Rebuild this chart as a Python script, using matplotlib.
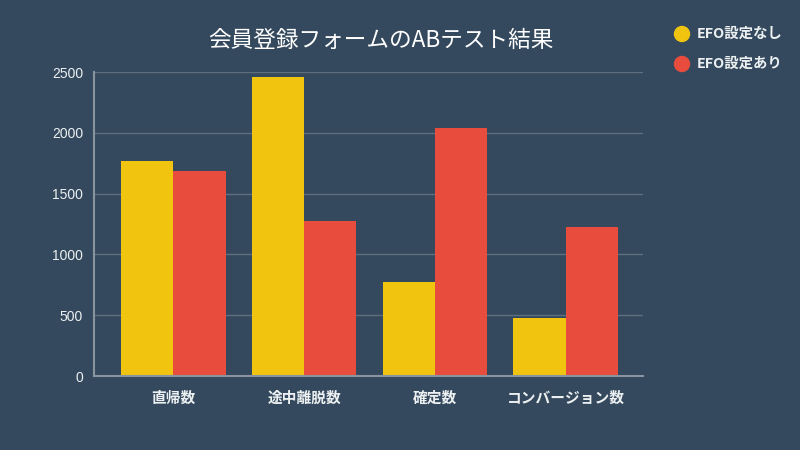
import matplotlib
matplotlib.use("Agg")
import matplotlib.pyplot as plt
import numpy as np

plt.rcParams['font.family'] = ['Noto Sans CJK JP', 'DejaVu Sans']

categories = ["直帰数", "途中離脱数", "確定数", "コンバージョン数"]
series_names = ["EFO設定なし", "EFO設定あり"]
without_efo = [1770, 2460, 775, 478]
with_efo = [1688, 1275, 2040, 1228]
yticks = [0, 500, 1000, 1500, 2000, 2500]

bg = "#34495e"
colors = ["#f1c40f", "#e74c3c"]
text_color = "#ecf0f1"

fig = plt.figure(figsize=(8, 4.5), dpi=100, facecolor=bg)
ax = fig.add_axes([94/800, 1-376/450, (643-94)/800, (376-72)/450], facecolor=bg)

x = np.arange(len(categories))
w = 0.4
ax.bar(x - w/2, without_efo, width=w, color=colors[0], zorder=3)
ax.bar(x + w/2, with_efo, width=w, color=colors[1], zorder=3)

ax.set_xlim(-0.608, len(categories) - 0.408)
ax.set_ylim(0, 2500)
ax.set_yticks(yticks)
ax.set_yticklabels([str(v) for v in yticks], family=['Liberation Sans', 'DejaVu Sans'], fontsize=10, color=text_color)
ax.set_xticks(x)
ax.set_xticklabels(categories, fontsize=10.6, fontweight='bold', color=text_color)
ax.tick_params(axis='both', length=0, pad=8)
ax.tick_params(axis='x', pad=10)

ax.grid(axis='y', color="#5f6f80", linewidth=1, zorder=0)
for s in ['top', 'right']:
    ax.spines[s].set_visible(False)
for s in ['left', 'bottom']:
    ax.spines[s].set_color("#8a949e")
    ax.spines[s].set_linewidth(1.5)
    ax.spines[s].set_zorder(4)

fig.text(381/800, 1-40/450, "会員登録フォームのABテスト結果", ha='center', va='center',
         fontsize=16.3, color="white")

for i, (name, c) in enumerate(zip(series_names, colors)):
    yy = 1 - (34 + 30*i)/450
    fig.patches.append(matplotlib.patches.Ellipse((682/800, yy), 15/800, 15/450,
                                                  transform=fig.transFigure, color=c, figure=fig))
    fig.text(697/800, yy, name, ha='left', va='center', fontsize=10.4, fontweight='bold', color=text_color)

fig.savefig("out.png", dpi=100, facecolor=bg)
